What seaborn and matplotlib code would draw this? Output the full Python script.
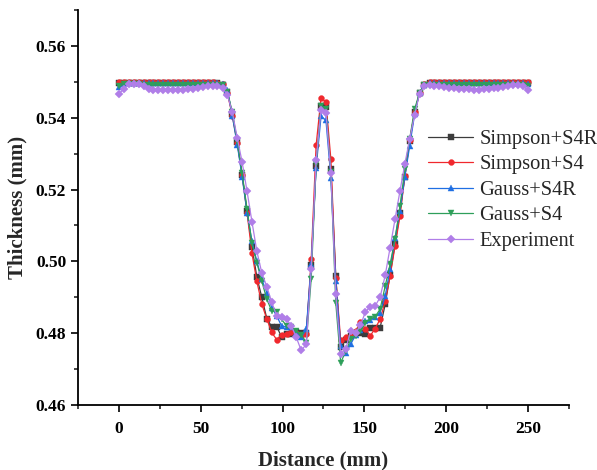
import numpy as np
import pandas as pd
import seaborn as sns
import matplotlib.pyplot as plt
from matplotlib.ticker import MultipleLocator

# Measurement positions along the strip (mm)
distance = [0.0, 3.0, 6.0, 9.0, 12.0, 15.1, 18.1, 21.1, 24.1, 27.1, 30.1,
            33.1, 36.1, 39.2, 42.2, 45.2, 48.2, 51.2, 54.2, 57.2, 60.2,
            63.3, 66.3, 69.3, 72.3, 75.3, 78.3, 81.3, 84.3, 87.3, 90.4,
            93.4, 96.4, 99.4, 102.4, 105.4, 108.4, 111.4, 114.5, 117.5, 120.5,
            123.5, 126.5, 129.5, 132.5, 135.5, 138.6, 141.6, 144.6, 147.6, 150.6,
            153.6, 156.6, 159.6, 162.7, 165.7, 168.7, 171.7, 174.7, 177.7, 180.7,
            183.7, 186.7, 189.8, 192.8, 195.8, 198.8, 201.8, 204.8, 207.8, 210.8,
            213.9, 216.9, 219.9, 222.9, 225.9, 228.9, 231.9, 234.9, 238.0, 241.0,
            244.0, 247.0, 250.0]

simpson_s4r = [0.5496, 0.5497, 0.5498, 0.5498, 0.5498, 0.5498, 0.5498, 0.5498, 0.5498, 0.5498, 0.5498,
               0.5498, 0.5498, 0.5498, 0.5498, 0.5498, 0.5498, 0.5498, 0.5497, 0.5497, 0.5496,
               0.5492, 0.5472, 0.5410, 0.5332, 0.5240, 0.5140, 0.5040, 0.4956, 0.4900, 0.4840,
               0.4818, 0.4818, 0.4790, 0.4797, 0.4797, 0.4802, 0.4800, 0.4800, 0.4990, 0.5265,
               0.5433, 0.5431, 0.5256, 0.4959, 0.4762, 0.4780, 0.4792, 0.4800, 0.4800, 0.4799,
               0.4815, 0.4815, 0.4815, 0.4880, 0.4962, 0.5048, 0.5135, 0.5235, 0.5335, 0.5415,
               0.5470, 0.5492, 0.5497, 0.5498, 0.5498, 0.5498, 0.5498, 0.5498, 0.5498, 0.5498,
               0.5498, 0.5498, 0.5498, 0.5498, 0.5498, 0.5498, 0.5498, 0.5498, 0.5498, 0.5498,
               0.5498, 0.5498, 0.5497]

simpson_s4 = [0.5499, 0.5500, 0.5500, 0.5500, 0.5500, 0.5500, 0.5500, 0.5500, 0.5500, 0.5500, 0.5500,
              0.5500, 0.5500, 0.5500, 0.5500, 0.5500, 0.5500, 0.5500, 0.5499, 0.5499, 0.5498,
              0.5493, 0.5468, 0.5405, 0.5330, 0.5240, 0.5135, 0.5022, 0.4944, 0.4881, 0.4839,
              0.4802, 0.4782, 0.4796, 0.4798, 0.4803, 0.4800, 0.4793, 0.4797, 0.5006, 0.5323,
              0.5456, 0.5443, 0.5285, 0.4955, 0.4780, 0.4788, 0.4793, 0.4806, 0.4831, 0.4812,
              0.4793, 0.4813, 0.4839, 0.4889, 0.4959, 0.5042, 0.5125, 0.5237, 0.5339, 0.5415,
              0.5468, 0.5494, 0.5499, 0.5500, 0.5500, 0.5500, 0.5500, 0.5500, 0.5500, 0.5500,
              0.5500, 0.5500, 0.5500, 0.5500, 0.5500, 0.5500, 0.5500, 0.5500, 0.5500, 0.5500,
              0.5500, 0.5500, 0.5500]

gauss_s4r = [0.5485, 0.5495, 0.5497, 0.5497, 0.5497, 0.5497, 0.5497, 0.5497, 0.5497, 0.5497, 0.5497,
             0.5497, 0.5497, 0.5497, 0.5497, 0.5497, 0.5497, 0.5497, 0.5497, 0.5496, 0.5496,
             0.5493, 0.5476, 0.5405, 0.5325, 0.5235, 0.5135, 0.5056, 0.5000, 0.4950, 0.4913,
             0.4871, 0.4848, 0.4820, 0.4818, 0.4816, 0.4800, 0.4788, 0.4811, 0.4992, 0.5260,
             0.5404, 0.5393, 0.5233, 0.4945, 0.4765, 0.4746, 0.4769, 0.4795, 0.4810, 0.4834,
             0.4838, 0.4846, 0.4857, 0.4903, 0.4980, 0.5064, 0.5140, 0.5236, 0.5322, 0.5410,
             0.5470, 0.5492, 0.5496, 0.5497, 0.5497, 0.5497, 0.5497, 0.5497, 0.5497, 0.5497,
             0.5497, 0.5497, 0.5497, 0.5497, 0.5497, 0.5497, 0.5497, 0.5497, 0.5497, 0.5497,
             0.5497, 0.5497, 0.5494]

gauss_s4 = [0.5487, 0.5493, 0.5493, 0.5493, 0.5493, 0.5492, 0.5492, 0.5491, 0.5491, 0.5491, 0.5491,
            0.5491, 0.5491, 0.5491, 0.5491, 0.5492, 0.5492, 0.5492, 0.5492, 0.5492, 0.5492,
            0.5490, 0.5472, 0.5415, 0.5335, 0.5245, 0.5145, 0.5050, 0.4996, 0.4945, 0.4894,
            0.4862, 0.4859, 0.4839, 0.4820, 0.4816, 0.4805, 0.4796, 0.4774, 0.4952, 0.5270,
            0.5433, 0.5424, 0.5250, 0.4885, 0.4718, 0.4749, 0.4783, 0.4792, 0.4806, 0.4829,
            0.4839, 0.4846, 0.4867, 0.4931, 0.4992, 0.5061, 0.5153, 0.5256, 0.5342, 0.5424,
            0.5470, 0.5490, 0.5492, 0.5492, 0.5492, 0.5491, 0.5491, 0.5490, 0.5490, 0.5490,
            0.5490, 0.5490, 0.5490, 0.5490, 0.5491, 0.5491, 0.5491, 0.5492, 0.5492, 0.5492,
            0.5492, 0.5491, 0.5489]

experiment = [0.5467, 0.5480, 0.5494, 0.5494, 0.5493, 0.5487, 0.5481, 0.5478, 0.5478, 0.5478, 0.5478,
              0.5478, 0.5477, 0.5478, 0.5480, 0.5480, 0.5482, 0.5486, 0.5488, 0.5488, 0.5487,
              0.5482, 0.5464, 0.5415, 0.5344, 0.5276, 0.5195, 0.5110, 0.5028, 0.4968, 0.4929,
              0.4886, 0.4849, 0.4846, 0.4839, 0.4820, 0.4788, 0.4752, 0.4769, 0.4978, 0.5281,
              0.5422, 0.5413, 0.5247, 0.4908, 0.4742, 0.4756, 0.4806, 0.4800, 0.4822, 0.4859,
              0.4874, 0.4876, 0.4900, 0.4961, 0.5038, 0.5117, 0.5195, 0.5271, 0.5341, 0.5408,
              0.5467, 0.5489, 0.5491, 0.5489, 0.5487, 0.5486, 0.5484, 0.5482, 0.5481, 0.5480,
              0.5479, 0.5478, 0.5478, 0.5479, 0.5480, 0.5482, 0.5484, 0.5486, 0.5488, 0.5490,
              0.5491, 0.5489, 0.5476]

series_names = ["Simpson+S4R", "Simpson+S4", "Gauss+S4R", "Gauss+S4", "Experiment"]
series_values = [simpson_s4r, simpson_s4, gauss_s4r, gauss_s4, experiment]

colors = ["#3c3c3c", "#f0282d", "#1f6fe3", "#2e9f5a", "#b07ee8"]
markers = ["s", "o", "^", "v", "D"]
msizes = [4.4, 4.2, 4.8, 4.8, 4.4]

sns.set_style("ticks")
plt.rcParams["font.family"] = ["Liberation Serif", "DejaVu Serif"]

fig = plt.figure(figsize=(5.97, 4.70), dpi=100)
ax = fig.add_axes([0.1307, 0.1383, 0.8223, 0.8404])

for name, vals, c, m, ms in zip(series_names, series_values, colors, markers, msizes):
    df = pd.DataFrame({"Distance": distance, "Thickness": vals})
    sns.lineplot(data=df, x="Distance", y="Thickness", ax=ax, color=c,
                 marker=m, markersize=ms, markeredgewidth=0.3, markeredgecolor=c,
                 linewidth=0.9, label=name, estimator=None, sort=False)

ax.set_xlim(-25, 275)
ax.set_ylim(0.46, 0.57)
ax.xaxis.set_minor_locator(MultipleLocator(25))
ax.yaxis.set_minor_locator(MultipleLocator(0.01))
ax.set_xticks([0, 50, 100, 150, 200, 250])
ax.set_yticks([0.46, 0.48, 0.50, 0.52, 0.54, 0.56])
ax.set_yticklabels(["0.46", "0.48", "0.50", "0.52", "0.54", "0.56"])

sns.despine(ax=ax)
for side in ("left", "bottom"):
    ax.spines[side].set_linewidth(1.3)
    ax.spines[side].set_color("black")
ax.tick_params(axis="both", which="major", direction="out", length=5, width=1.2,
               labelsize=12.5, colors="black")
ax.tick_params(axis="x", which="major", pad=6.5)
ax.tick_params(axis="both", which="minor", direction="out", length=3, width=1.2)
for lbl in ax.get_xticklabels() + ax.get_yticklabels():
    lbl.set_fontweight("bold")

ax.set_xlabel("Distance (mm)", fontsize=15, fontweight="bold", labelpad=10)
ax.set_ylabel("Thickness (mm)", fontsize=15, fontweight="bold", labelpad=6)

leg = ax.legend(loc="center left", bbox_to_anchor=(0.713, 0.544), frameon=False,
                fontsize=14.8, handlelength=2.2, handletextpad=0.3, labelspacing=0.3,
                borderaxespad=0, borderpad=0)

fig.savefig("out.png", dpi=100)
